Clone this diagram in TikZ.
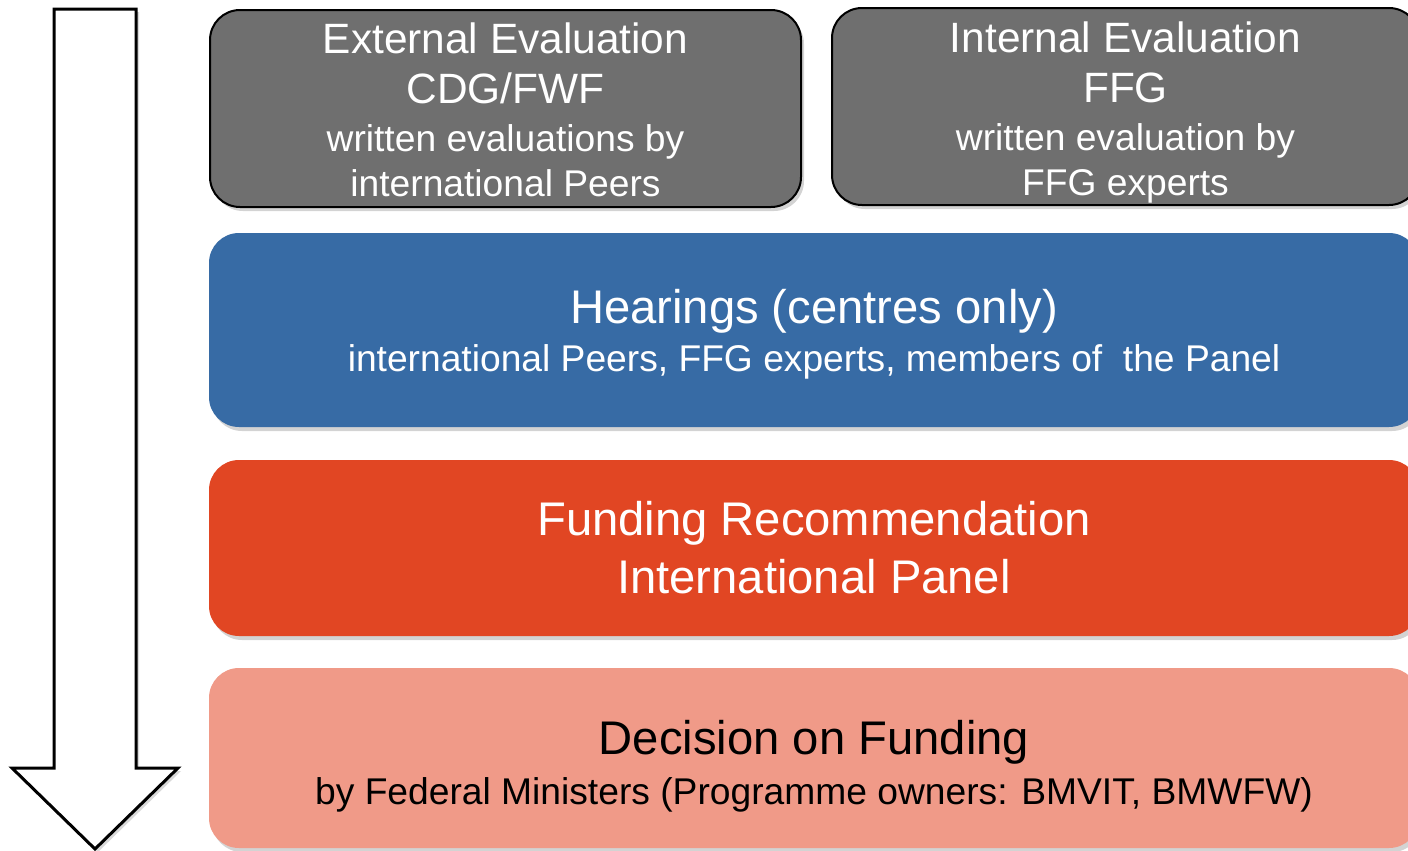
\documentclass[tikz,border=0pt]{standalone}
\usepackage{fontspec}
\setmainfont{Liberation Sans}
\usetikzlibrary{shadows}

\definecolor{evalgray}{HTML}{6F6F6F}
\definecolor{hearblue}{HTML}{376BA5}
\definecolor{recred}{HTML}{E14623}
\definecolor{decsalmon}{HTML}{F09A88}

\newcommand{\bigline}[1]{{\fontsize{23.6}{28}\selectfont #1}}
\newcommand{\midline}[1]{{\fontsize{21.2}{25}\selectfont #1}}
\newcommand{\topgap}[1]{\rule{0pt}{#1}}

\begin{document}
\begin{tikzpicture}[x=0.5pt,y=-0.5pt,
    stage/.style={rounded corners=15pt, align=center, inner sep=0pt, text=white,
        font=\fontsize{18.6}{22.5}\selectfont,
        drop shadow={opacity=0.35, shadow xshift=1.5pt, shadow yshift=-2pt}},
    evalbox/.style={stage, draw=black, line width=1pt, fill=evalgray,
        minimum height=98.5pt}]
    \useasboundingbox (0,0) rectangle (1408,851);

    \draw[line width=1.5pt, fill=white,
        drop shadow={opacity=0.3, shadow xshift=1.5pt, shadow yshift=-1.5pt}]
        (54,9) -- (136,9) -- (136,768) -- (178,768) -- (95,849) -- (12,768) -- (54,768) -- cycle;

    \node[evalbox, minimum width=295.5pt] (ext) at (505.5,108.5)
        {\midline{\topgap{17pt}External Evaluation}\\[2.5pt]\midline{CDG/FWF}\\[1.5pt]
         written evaluations by\\international Peers};
    \node[evalbox, minimum width=293.5pt] (int) at (1125.5,106.5)
        {\midline{\topgap{17pt}Internal Evaluation}\\[2.5pt]\midline{FFG}\\[1.5pt]
         written evaluation by\\\smash{FFG experts}};

    \node[stage, fill=hearblue, minimum width=605pt, minimum height=97pt] (hear) at (814,330)
        {\bigline{\topgap{21.5pt}Hearings (centres only)}\\[1.5pt]
         international Peers, FFG experts, members of\ \ the Panel};
    \node[stage, fill=recred, minimum width=605pt, minimum height=88pt,
        font=\fontsize{23.6}{29}\selectfont] (rec) at (814,548)
        {Funding Recommendation\\International Panel};
    \node[stage, fill=decsalmon, text=black, minimum width=605pt, minimum height=90pt] (dec) at (814,758)
        {\bigline{\topgap{25pt}Decision on Funding}\\[2.5pt]
         by Federal Ministers (Programme owners: BMVIT, BMWFW)};
\end{tikzpicture}
\end{document}
